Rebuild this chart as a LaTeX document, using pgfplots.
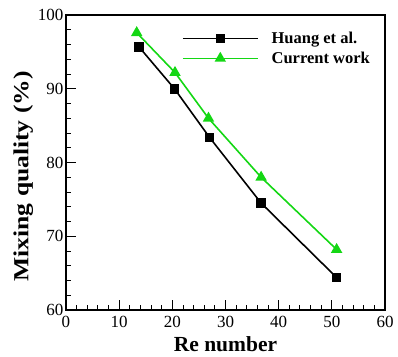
\documentclass[border=0pt]{standalone}
\usepackage{pgfplots}
\pgfplotsset{compat=1.18}
\usepackage{fontspec}
\setmainfont{Liberation Serif}
\newfontfamily\ylabfont[FakeStretch=1.19]{Liberation Serif}
\definecolor{mygreen}{RGB}{20,215,20}
\begin{document}
\begin{tikzpicture}[x=1pt,y=1pt]
\begin{axis}[
  scale only axis,
  width=319pt, height=295pt,
  xmin=0, xmax=60, ymin=60, ymax=100,
  xtick={0,10,...,60}, ytick={60,70,...,100},
  minor x tick num=4, minor y tick num=4,
  tick pos=left, tick align=inside,
  major tick length=10pt, minor tick length=5.5pt,
  every tick/.style={black, line width=0.9pt},
  axis line style={line width=1.3pt},
  /pgf/number format/assume math mode=true,
  tick label style={font=\fontsize{17}{19}\selectfont},
  xticklabel style={yshift=-3pt},
  yticklabel style={xshift=1pt},
  xlabel={\textbf{Re number}}, ylabel={\ylabfont\bfseries Mixing quality (\%)},
  xlabel style={font=\fontsize{21.5}{23}\selectfont, yshift=-2pt},
  ylabel style={font=\fontsize{21.5}{23}\selectfont, at={(ticklabel cs:0.453)}, yshift=-2pt},
  legend style={draw=none, fill=none, inner sep=0pt, at={(0.363,0.95)}, anchor=north west, font=\bfseries\fontsize{16.5}{18}\selectfont, row sep=3pt, column sep=11pt},
  legend cell align=left,
  legend image code/.code={\draw[#1, mark repeat=2, mark phase=2] plot coordinates {(0pt,0pt) (37.5pt,0pt) (75pt,0pt)};},
]
\addplot[black, line width=1.6pt, mark=square*, mark size=4pt, mark options={solid}] coordinates {
(13.7,95.7) (20.4,90.0) (27.0,83.4) (36.7,74.5) (50.9,64.4)};
\addlegendentry{Huang et al.}
\addplot[mygreen, line width=1.6pt, mark=triangle*, mark size=5pt, mark options={solid}] coordinates {
(13.3,97.6) (20.5,92.2) (26.8,86.0) (36.7,78.0) (50.9,68.2)};
\addlegendentry{Current work}
\end{axis}
\pgfresetboundingbox
\path (current axis.south west) ++(-66pt,-46pt) rectangle ++(398pt,356pt);
\end{tikzpicture}
\end{document}
